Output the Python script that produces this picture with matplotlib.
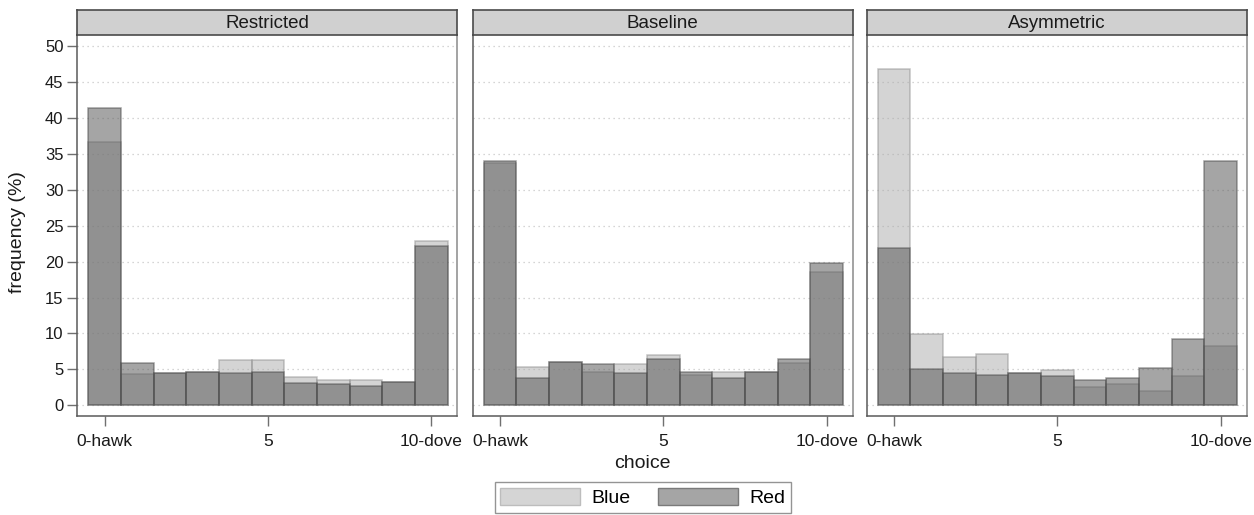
import matplotlib
matplotlib.use("Agg")
import matplotlib.pyplot as plt
from matplotlib.patches import Patch

plt.rcParams['font.family'] = ['Liberation Sans', 'DejaVu Sans']

panels = ["Restricted", "Baseline", "Asymmetric"]
choices = list(range(11))
xtick_pos = [0, 5, 10]
xtick_labels = ["0-hawk", "5", "10-dove"]
yticks = list(range(0, 51, 5))

blue_restricted = [36.6, 4.3, 4.5, 4.7, 6.35, 6.35, 3.9, 3.55, 3.55, 3.3, 22.9]
red_restricted  = [41.4, 5.85, 4.5, 4.7, 4.55, 4.7, 3.15, 2.95, 2.75, 3.2, 22.15]
blue_baseline   = [33.7, 5.3, 6.05, 4.7, 5.8, 7.0, 4.2, 4.65, 4.7, 5.9, 18.6]
red_baseline    = [34.05, 3.85, 6.05, 5.7, 4.55, 6.45, 4.7, 3.85, 4.7, 6.5, 19.8]
blue_asym       = [46.8, 9.9, 6.7, 7.2, 4.55, 4.85, 2.55, 2.95, 2.0, 4.05, 8.3]
red_asym        = [21.9, 5.0, 4.45, 4.2, 4.55, 4.05, 3.55, 3.85, 5.2, 9.2, 34.0]

blue_data = [blue_restricted, blue_baseline, blue_asym]
red_data = [red_restricted, red_baseline, red_asym]

W, H = 1254, 515
fig = plt.figure(figsize=(W / 100, H / 100), dpi=100)

blue_face = (0.667, 0.667, 0.667, 0.5)
blue_edge = (0.55, 0.55, 0.55, 0.5)
red_face = (0.357, 0.357, 0.357, 0.55)
red_edge = (0.27, 0.27, 0.27, 0.5)

lefts = [77.3, 472.7, 866.7]
pw = 380.0
ax_top = 35.0
ax_bot = 415.7
strip_top = 10.0
spine_col = "#5a5a5a"
txt_col = "#1a1a1a"

for i, name in enumerate(panels):
    l = lefts[i]
    ax = fig.add_axes([l / W, 1 - ax_bot / H, pw / W, (ax_bot - ax_top) / H])
    ax.set_xlim(-0.84, 10.8)
    ax.set_ylim(-1.45, 51.55)
    for y in yticks:
        ax.axhline(y, color="#c8c8c8", lw=0.9, ls=(0, (1, 3)), zorder=0)
    ax.bar(choices, blue_data[i], width=1.0, facecolor=blue_face, edgecolor=blue_edge,
           linewidth=1.1, zorder=2)
    ax.bar(choices, red_data[i], width=1.0, facecolor=red_face, edgecolor=red_edge,
           linewidth=1.1, zorder=3)
    ax.set_xticks(xtick_pos)
    ax.set_xticklabels(xtick_labels, fontsize=12.5, color=txt_col)
    ax.set_yticks(yticks)
    if i == 0:
        ax.set_yticklabels([str(v) for v in yticks], fontsize=12, color=txt_col)
        ax.tick_params(axis='y', length=7, width=1, color="#707070", pad=3)
    else:
        ax.tick_params(axis='y', length=0, labelleft=False)
    ax.tick_params(axis='x', length=7, width=1, color="#707070", pad=6)
    for s in ax.spines.values():
        s.set_color(spine_col)
        s.set_linewidth(1.1)
    ax.spines['right'].set_color("#8a8a8a")
    ax.spines['top'].set_visible(False)

    sax = fig.add_axes([l / W, 1 - ax_top / H, pw / W, (ax_top - strip_top) / H])
    sax.set_facecolor("#d0d0d0")
    sax.set_xticks([])
    sax.set_yticks([])
    for s in sax.spines.values():
        s.set_color("#4a4a4a")
        s.set_linewidth(1.2)
    sax.text(0.5, 0.47, name, ha="center", va="center", fontsize=13.5,
             color=txt_col, transform=sax.transAxes)

fig.text(18 / W, 1 - 232 / H, "frequency (%)", rotation=90, ha="center", va="center",
         fontsize=14, color=txt_col)
fig.text(642 / W, 1 - 464 / H, "choice", ha="center", va="center", fontsize=14,
         color=txt_col)

handles = [Patch(facecolor="#d5d5d5", edgecolor="#bdbdbd", label="Blue"),
           Patch(facecolor="#a5a5a5", edgecolor="#7a7a7a", label="Red")]
leg = fig.legend(handles=handles, loc="upper center", bbox_to_anchor=(643 / W, 1 - 482 / H),
                 ncol=2, fontsize=14, frameon=True, fancybox=False, handlelength=4.1,
                 handleheight=1.0, columnspacing=1.4, handletextpad=0.6, borderpad=0.3,
                 borderaxespad=0.0, edgecolor="#7a7a7a")
leg.get_frame().set_linewidth(1.0)

fig.savefig("out.png", dpi=100)
